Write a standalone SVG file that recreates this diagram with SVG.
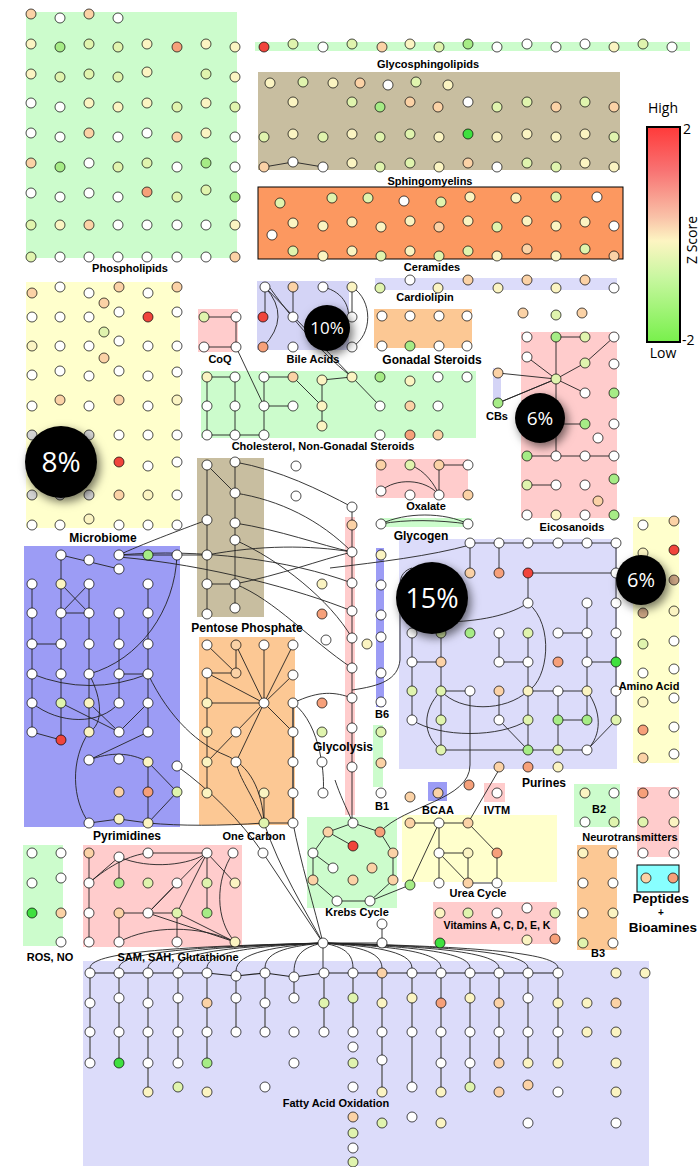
<svg xmlns="http://www.w3.org/2000/svg" width="700" height="1167" viewBox="0 0 700 1167">
<defs>
<style>
.t{font-family:"Liberation Sans",Arial,sans-serif;font-weight:bold;font-size:11px;text-anchor:middle;fill:#000}
.t12{font-size:12px}
.t14{font-size:13.5px}
.lgd{font-family:"Open Sans",sans-serif;font-size:14px;fill:#000}
.pc{font-family:"Open Sans",sans-serif;fill:#fff;text-anchor:middle}
.w,.y,.l,.g,.G,.p,.o,.r,.k,.b{r:5px;stroke:#000;stroke-width:.7}
.w{fill:#fff}.y{fill:#fbf4c2}.l{fill:#e0f4ae}.g{fill:#a6ec86}.G{fill:#3fe03f}.p{fill:#fbd2a6}.o{fill:#f6a07a}.r{fill:#f0453c}.k{fill:#d4d4d4}.b{fill:#c9a383}
.Pg{fill:#ccfccc}.Pt{fill:#c8bea0}.Po{fill:#fc9860;stroke:#000;stroke-width:1}.Pv{fill:#dcdcfa}.Pv2{fill:#d4d4f6}.Pp{fill:#ffcccc}.Pe{fill:#fcc894}.Py{fill:#ffffcc}.Pb{fill:#9c9cf5}.Pc{fill:#88ffff;stroke:#000;stroke-width:1}
#connectors path{fill:none;stroke:#222;stroke-width:.9}
</style>
<linearGradient id="zg" x1="0" y1="0" x2="0" y2="1">
<stop offset="0" stop-color="#ff3a3a"/><stop offset=".2" stop-color="#f87272"/><stop offset=".42" stop-color="#f9c2a8"/><stop offset=".53" stop-color="#fdf5c2"/><stop offset=".7" stop-color="#c8f7a0"/><stop offset="1" stop-color="#78f04c"/>
</linearGradient>
<filter id="sh" x="-60%" y="-60%" width="220%" height="220%"><feDropShadow dx="3" dy="4" stdDeviation="5" flood-color="#000" flood-opacity=".55"/></filter>
</defs>
<rect width="700" height="1167" fill="#fff"/>

<g id="panels">
<rect class="Pg" x="26" y="12" width="211" height="246"/>
<rect class="Pg" x="255" y="42" width="435" height="9"/>
<rect class="Pt" x="258" y="72" width="362" height="98"/>
<rect class="Po" x="258" y="187" width="365" height="72"/>
<rect class="Pv" x="375" y="278" width="242" height="12"/>
<rect class="Py" x="26" y="282" width="154" height="246"/>
<rect class="Pp" x="198" y="309" width="40" height="43"/>
<rect class="Pv2" x="257" y="281" width="92" height="69"/>
<rect class="Pe" x="374" y="309" width="98" height="39"/>
<rect class="Pg" x="201" y="371" width="275" height="67"/>
<rect class="Pv2" x="493" y="368" width="8" height="35"/>
<rect class="Pp" x="521" y="332" width="96" height="186"/>
<rect class="Pt" x="197" y="458" width="67" height="159"/>
<rect class="Pp" x="376" y="459" width="92" height="39"/>
<rect class="Pg" x="380" y="518" width="92" height="9"/>
<rect class="Py" x="633" y="517" width="46" height="246"/>
<rect class="Pb" x="24" y="546" width="156" height="281"/>
<rect class="Pe" x="199" y="637" width="96" height="188"/>
<rect class="Pp" x="345" y="517" width="10" height="298"/>
<rect class="Pb" x="376" y="548" width="8" height="159"/>
<rect class="Pv" x="399" y="539" width="218" height="230"/>
<rect class="Pg" x="373" y="725" width="10" height="62"/>
<rect class="Pb" x="428" y="782" width="19" height="19"/>
<rect class="Pp" x="484" y="783" width="21" height="19"/>
<rect class="Pg" x="574" y="784" width="46" height="43"/>
<rect class="Pp" x="637" y="787" width="42" height="70"/>
<rect class="Pg" x="307" y="817" width="90" height="91"/>
<rect class="Py" x="402" y="815" width="155" height="67"/>
<rect class="Pe" x="577" y="845" width="40" height="105"/>
<rect class="Pc" x="637" y="865" width="42" height="27"/>
<rect class="Pp" x="433" y="902" width="124" height="42"/>
<rect class="Pg" x="23" y="845" width="40" height="101"/>
<rect class="Pp" x="83" y="845" width="159" height="102"/>
<rect class="Pv" x="83" y="961" width="566" height="205"/>
</g>

<g id="connectors">
<path d="M264 167L293 162L323 167"/>
<path d="M204 317H236V347H204M236 347L264 406"/>
<path d="M265 287V317M265 287Q292 317 263 347M293 287V317M352 287V317M352 287C373 300 373 335 352 347M323 287C345 292 352 310 347 325M265 287L352 377M270 288C300 330 330 360 352 377"/>
<path d="M207 377V435M235 377V435M264 377V435M207 435H264M264 377H293M264 406H293M293 377L322 406M322 380V426M322 380L352 377M352 377L380 406M207 377H235"/>
<path d="M556 337V456M556 337H585M614 337L585 363M556 379L527 357M556 379L585 363M556 379L585 393M556 379L498 373M556 379L498 403M556 379L503 401M556 424H585M527 456H614M527 485H556"/>
<path d="M439 465H468M439 465V495M410 465C425 470 435 485 439 495M381 491C395 478 425 478 439 495"/>
<path d="M381 524C405 512 445 512 468 524M381 524C405 519 440 520 468 524"/>
<path d="M352 507V822"/>
<path d="M470 543H616M470 543V573M499 543V573M528 573V603M528 573H616M616 543V720M587 603V720M412 633V720M441 633V750M499 633V662M499 691V720M528 633V750M558 691V750M412 662H441M499 662H528M558 633H587M587 662H616M441 691H470M528 691H587M558 720H587M441 750H587M499 720L528 750M616 720L587 750"/>
<path d="M441 691C460 712 505 712 528 691M412 720C440 738 500 738 528 720M441 691C422 710 422 735 441 750M528 603C555 625 548 680 528 691M528 603C505 618 470 622 440 622M587 691C602 712 602 735 587 750"/>
<path d="M470 691V765C470 800 405 805 380 832"/>
<path d="M352 690C380 686 398 680 400 660V585C400 575 405 570 412 568M330 568C380 562 430 556 470 545"/>
<path d="M410 823H468M439 823V883M439 823L410 885M468 823L497 853V883M439 853L468 883M468 853V883M468 883H497M439 853H468M468 823L500 768"/>
<path d="M353 823L380 832L393 853L393 880L370 901L337 901L313 880L313 853L328 832ZM328 832L353 846M313 853L333 868M370 901L410 885M353 823C345 805 340 795 335 780"/>
<path d="M323 943H382M382 924V943M323 943L263 853M293 823C300 860 315 910 323 943M264 823C280 870 305 910 323 943"/>
<path d="M89 853V942M89 883L119 857M89 883C110 865 130 855 148 853M119 857V883M148 853H207M119 857C150 870 190 865 207 853M207 853V913M207 853L148 913M207 853L177 913M207 853L235 883M119 913H177M119 913V942M177 883L148 913M177 913V942M177 913L235 942M148 913L235 942M119 942C150 925 200 925 235 942M233 853C215 880 215 920 235 942"/>
<path d="M32 584V732M61 555V740M89 584V732M119 613V703M148 584V732M32 644H61M61 613H89M61 584L89 613M89 584L61 613M119 674H148M32 674Q90 697 148 674M32 732L61 740M61 703L119 732M89 703L119 732M32 703C60 725 100 725 119 703M148 703L119 732M148 732L89 760M89 760C110 752 130 752 148 762M148 762V823M148 762L177 792M177 792L148 823"/>
<path d="M89 674C103 700 103 725 89 732M89 732C70 760 72 800 89 823M89 823L119 819L148 823C180 826 220 826 264 823M89 674C140 660 175 610 177 555M61 555L119 569M119 555H207M207 520C180 530 140 545 119 555"/>
<path d="M207 465V614M235 462V608M207 465L235 493M207 584H235M235 584C280 575 320 560 352 552M235 584C275 600 310 640 352 668M207 555C260 545 310 545 352 552M119 555C200 548 290 560 352 583M119 557C210 565 300 590 352 611M235 493C280 500 320 520 352 552M235 462C280 470 320 490 352 507M235 523C280 530 320 545 352 552M235 540C280 560 330 600 352 638"/>
<path d="M264 703L207 673M264 703L236 645M264 703L293 645M264 703L293 675M264 703H207M264 703L293 732M264 703L236 762M264 703L207 762M264 645V703M207 673V793M236 645V673M207 673H236M207 645L236 673M264 793V823M264 823H293M264 823C250 790 240 780 236 762M293 703C320 690 335 692 352 698M293 703C322 725 325 780 323 793"/>
<path d="M293 703V823" style="stroke-width:1.6;stroke:#444"/>
<path d="M148 674C170 720 200 745 225 755C250 765 262 790 264 823M177 766C210 790 240 820 263 853"/>
<path d="M323 943C206 946 90 950 90 968M323 943C221 946 119 950 119 968M323 943C235 946 148 950 148 968M323 943C250 946 178 950 178 968M323 943C265 946 207 950 207 968M323 943C279 946 236 952 236 971M323 943C294 946 265 950 265 968M323 943C308 946 294 952 294 972M323 943V968M323 943C338 946 353 950 353 968M323 943C352 946 382 950 382 968M323 943C367 946 412 950 412 968M323 943C382 946 441 950 441 968M323 943C396 946 470 950 470 968M323 943C411 946 499 950 499 968M323 943C425 946 528 950 528 968M323 943C440 946 558 950 558 968"/>
<path d="M90 973H207L236 976L265 973L294 977L324 973H558" style="stroke-width:1.2"/>
<path d="M90 973V1063M119 973V1063M148 973V1092M178 973V1063M207 973V1063M236 976V1032M265 973V1032M294 977V1002M324 973V1032M353 973V1032M382 973V1092M412 973V1087M441 973V1092M470 973V1087M499 973V1063M528 973V1063M558 973V1063" style="stroke:#555;stroke-width:1.3"/>
</g>

<g id="nodes">
<g id="phospholipids">
<circle class="p" cx="31" cy="14"/><circle class="w" cx="60" cy="18"/><circle class="p" cx="89" cy="14"/><circle class="w" cx="118" cy="18"/>
<circle class="y" cx="31" cy="44"/><circle class="g" cx="60" cy="47"/><circle class="l" cx="89" cy="44"/><circle class="l" cx="118" cy="47"/><circle class="y" cx="147" cy="44"/><circle class="o" cx="177" cy="47"/><circle class="y" cx="206" cy="44"/><circle class="y" cx="235" cy="47"/>
<circle class="y" cx="31" cy="74"/><circle class="l" cx="60" cy="77"/><circle class="l" cx="89" cy="74"/><circle class="l" cx="118" cy="77"/><circle class="y" cx="147" cy="72"/><circle class="l" cx="206" cy="74"/><circle class="y" cx="235" cy="77"/>
<circle class="w" cx="31" cy="103"/><circle class="w" cx="60" cy="107"/><circle class="y" cx="89" cy="103"/><circle class="y" cx="118" cy="107"/><circle class="y" cx="147" cy="103"/><circle class="l" cx="177" cy="107"/><circle class="y" cx="206" cy="103"/><circle class="l" cx="235" cy="107"/>
<circle class="w" cx="31" cy="133"/><circle class="w" cx="60" cy="137"/><circle class="p" cx="89" cy="133"/><circle class="w" cx="118" cy="137"/><circle class="w" cx="147" cy="133"/><circle class="p" cx="177" cy="137"/><circle class="y" cx="206" cy="133"/><circle class="w" cx="235" cy="137"/>
<circle class="p" cx="31" cy="163"/><circle class="g" cx="60" cy="167"/><circle class="w" cx="89" cy="163"/><circle class="l" cx="118" cy="167"/><circle class="l" cx="147" cy="163"/><circle class="w" cx="177" cy="167"/><circle class="g" cx="206" cy="163"/><circle class="w" cx="235" cy="167"/>
<circle class="w" cx="31" cy="193"/><circle class="w" cx="60" cy="197"/><circle class="w" cx="89" cy="193"/><circle class="w" cx="118" cy="197"/><circle class="o" cx="147" cy="192"/><circle class="l" cx="177" cy="197"/><circle class="l" cx="206" cy="190"/><circle class="g" cx="235" cy="197"/>
<circle class="l" cx="31" cy="225"/><circle class="y" cx="60" cy="225"/><circle class="p" cx="89" cy="225"/><circle class="w" cx="118" cy="225"/><circle class="w" cx="147" cy="225"/><circle class="w" cx="177" cy="225"/><circle class="w" cx="206" cy="225"/><circle class="y" cx="235" cy="225"/>
<circle class="l" cx="31" cy="257"/><circle class="w" cx="60" cy="257"/><circle class="w" cx="89" cy="257"/><circle class="w" cx="118" cy="257"/><circle class="w" cx="147" cy="257"/><circle class="w" cx="177" cy="257"/><circle class="w" cx="206" cy="257"/><circle class="p" cx="235" cy="257"/>
</g>
<g id="glycosphingolipids">
<circle class="r" cx="264" cy="47"/><circle class="l" cx="293" cy="44"/><circle class="w" cx="323" cy="47"/><circle class="l" cx="352" cy="44"/><circle class="p" cx="382" cy="47"/><circle class="y" cx="410" cy="44"/><circle class="l" cx="439" cy="47"/><circle class="g" cx="468" cy="44"/><circle class="w" cx="497" cy="47"/><circle class="w" cx="527" cy="44"/><circle class="w" cx="556" cy="47"/><circle class="w" cx="585" cy="44"/><circle class="y" cx="614" cy="47"/><circle class="l" cx="643" cy="44"/><circle class="w" cx="672" cy="47"/>
</g>
<g id="sphingomyelins">
<circle class="y" cx="270" cy="83"/><circle class="l" cx="303" cy="82"/><circle class="y" cx="333" cy="83"/><circle class="p" cx="360" cy="83"/><circle class="w" cx="388" cy="85"/><circle class="l" cx="416" cy="82"/><circle class="y" cx="448" cy="85"/>
<circle class="y" cx="293" cy="102"/><circle class="l" cx="352" cy="102"/><circle class="g" cx="380" cy="107"/><circle class="p" cx="410" cy="102"/><circle class="p" cx="438" cy="107"/><circle class="w" cx="468" cy="102"/><circle class="l" cx="497" cy="107"/><circle class="l" cx="527" cy="102"/><circle class="p" cx="556" cy="107"/><circle class="l" cx="585" cy="102"/><circle class="p" cx="614" cy="107"/>
<circle class="l" cx="264" cy="137"/><circle class="y" cx="293" cy="134"/><circle class="l" cx="323" cy="137"/><circle class="y" cx="352" cy="134"/><circle class="l" cx="380" cy="137"/><circle class="l" cx="410" cy="134"/><circle class="y" cx="439" cy="137"/><circle class="G" cx="468" cy="134"/><circle class="y" cx="497" cy="137"/><circle class="y" cx="527" cy="134"/><circle class="y" cx="556" cy="137"/><circle class="y" cx="585" cy="134"/><circle class="l" cx="614" cy="137"/>
<circle class="p" cx="264" cy="167"/><circle class="w" cx="293" cy="162"/><circle class="w" cx="323" cy="167"/><circle class="y" cx="352" cy="163"/><circle class="l" cx="380" cy="167"/><circle class="l" cx="410" cy="163"/><circle class="y" cx="439" cy="167"/><circle class="p" cx="468" cy="163"/><circle class="w" cx="497" cy="167"/><circle class="l" cx="527" cy="163"/><circle class="l" cx="556" cy="167"/><circle class="y" cx="585" cy="163"/><circle class="y" cx="614" cy="167"/>
</g>
<g id="ceramides">
<circle class="l" cx="280" cy="203"/><circle class="l" cx="332" cy="198"/><circle class="l" cx="368" cy="198"/><circle class="w" cx="404" cy="201"/><circle class="l" cx="441" cy="202"/><circle class="y" cx="470" cy="197"/><circle class="y" cx="516" cy="198"/><circle class="l" cx="556" cy="197"/><circle class="w" cx="597" cy="197"/>
<circle class="w" cx="272" cy="235"/><circle class="y" cx="293" cy="223"/><circle class="y" cx="323" cy="226"/><circle class="y" cx="352" cy="222"/><circle class="y" cx="381" cy="227"/><circle class="y" cx="410" cy="221"/><circle class="p" cx="439" cy="227"/><circle class="y" cx="468" cy="221"/><circle class="l" cx="497" cy="227"/><circle class="y" cx="527" cy="221"/><circle class="y" cx="556" cy="226"/><circle class="y" cx="585" cy="222"/><circle class="w" cx="614" cy="226"/>
<circle class="l" cx="293" cy="251"/><circle class="y" cx="323" cy="256"/><circle class="y" cx="352" cy="251"/><circle class="l" cx="381" cy="256"/><circle class="y" cx="410" cy="251"/><circle class="l" cx="439" cy="256"/><circle class="l" cx="468" cy="251"/><circle class="y" cx="497" cy="256"/><circle class="p" cx="527" cy="249"/><circle class="y" cx="556" cy="256"/><circle class="l" cx="585" cy="249"/><circle class="p" cx="614" cy="256"/>
</g>
<g id="cardiolipin">
<circle class="l" cx="380" cy="288"/><circle class="w" cx="410" cy="280"/><circle class="y" cx="438" cy="288"/><circle class="p" cx="468" cy="280"/><circle class="y" cx="498" cy="288"/><circle class="p" cx="527" cy="280"/><circle class="y" cx="556" cy="288"/><circle class="p" cx="585" cy="280"/><circle class="w" cx="614" cy="288"/>
</g>
<g id="microbiome">
<circle class="p" cx="32" cy="293"/><circle class="w" cx="60" cy="287"/><circle class="w" cx="89" cy="293"/><circle class="p" cx="119" cy="287"/><circle class="w" cx="148" cy="293"/><circle class="p" cx="177" cy="287"/>
<circle class="p" cx="104" cy="303"/>
<circle class="w" cx="32" cy="317"/><circle class="w" cx="60" cy="317"/><circle class="w" cx="89" cy="317"/><circle class="w" cx="119" cy="312"/><circle class="r" cx="148" cy="317"/><circle class="w" cx="177" cy="312"/>
<circle class="l" cx="104" cy="332"/>
<circle class="y" cx="32" cy="346"/><circle class="w" cx="60" cy="346"/><circle class="w" cx="89" cy="346"/><circle class="w" cx="119" cy="341"/><circle class="w" cx="148" cy="346"/><circle class="w" cx="177" cy="346"/>
<circle class="p" cx="104" cy="358"/>
<circle class="w" cx="32" cy="375"/><circle class="w" cx="60" cy="371"/><circle class="w" cx="89" cy="376"/><circle class="w" cx="119" cy="371"/><circle class="w" cx="148" cy="376"/><circle class="w" cx="177" cy="372"/>
<circle class="w" cx="32" cy="406"/><circle class="p" cx="60" cy="400"/><circle class="w" cx="89" cy="406"/><circle class="p" cx="119" cy="400"/><circle class="w" cx="148" cy="406"/><circle class="y" cx="177" cy="400"/>
<circle class="k" cx="32" cy="435"/><circle class="k" cx="60" cy="435"/><circle class="k" cx="89" cy="435"/><circle class="w" cx="119" cy="435"/><circle class="w" cx="148" cy="435"/><circle class="w" cx="177" cy="435"/>
<circle class="k" cx="32" cy="462"/><circle class="k" cx="89" cy="462"/><circle class="r" cx="119" cy="462"/><circle class="w" cx="148" cy="466"/><circle class="w" cx="177" cy="462"/>
<circle class="k" cx="32" cy="495"/><circle class="k" cx="60" cy="495"/><circle class="k" cx="89" cy="495"/><circle class="p" cx="119" cy="495"/><circle class="y" cx="148" cy="495"/><circle class="w" cx="177" cy="495"/>
<circle class="y" cx="89" cy="519"/>
<circle class="w" cx="32" cy="525"/><circle class="w" cx="60" cy="525"/><circle class="w" cx="119" cy="525"/><circle class="w" cx="148" cy="525"/><circle class="w" cx="177" cy="525"/>
</g>
<g id="coq"><circle class="l" cx="204" cy="317"/><circle class="w" cx="236" cy="317"/><circle class="w" cx="204" cy="347"/><circle class="w" cx="236" cy="347"/></g>
<g id="bile-acids">
<circle class="w" cx="265" cy="287"/><circle class="p" cx="293" cy="287"/><circle class="w" cx="323" cy="287"/><circle class="y" cx="352" cy="287"/><circle class="r" cx="263" cy="317"/><circle class="w" cx="293" cy="317"/><circle class="w" cx="352" cy="317"/><circle class="o" cx="263" cy="347"/><circle class="w" cx="293" cy="347"/><circle class="w" cx="352" cy="347"/>
</g>
<g id="gonadal-steroids">
<circle class="w" cx="382" cy="316"/><circle class="w" cx="410" cy="316"/><circle class="w" cx="439" cy="316"/><circle class="w" cx="467" cy="316"/><circle class="w" cx="382" cy="346"/><circle class="g" cx="410" cy="346"/><circle class="w" cx="439" cy="346"/><circle class="w" cx="467" cy="346"/>
</g>
<g id="cholesterol">
<circle class="y" cx="207" cy="377"/><circle class="w" cx="235" cy="377"/><circle class="w" cx="264" cy="377"/><circle class="p" cx="293" cy="377"/><circle class="y" cx="322" cy="380"/><circle class="y" cx="352" cy="377"/><circle class="g" cx="380" cy="377"/><circle class="y" cx="410" cy="381"/><circle class="w" cx="438" cy="377"/><circle class="w" cx="467" cy="377"/>
<circle class="w" cx="207" cy="406"/><circle class="w" cx="235" cy="406"/><circle class="w" cx="264" cy="406"/><circle class="w" cx="293" cy="406"/><circle class="y" cx="322" cy="406"/><circle class="w" cx="380" cy="406"/><circle class="p" cx="410" cy="406"/><circle class="w" cx="438" cy="406"/>
<circle class="y" cx="322" cy="426"/>
<circle class="w" cx="207" cy="435"/><circle class="w" cx="235" cy="435"/><circle class="w" cx="264" cy="435"/><circle class="w" cx="380" cy="435"/><circle class="o" cx="410" cy="435"/><circle class="p" cx="438" cy="435"/>
</g>
<g id="cbs"><circle class="p" cx="498" cy="373"/><circle class="g" cx="498" cy="403"/><circle class="p" cx="523" cy="313"/><circle class="l" cx="556" cy="315"/><circle class="p" cx="582" cy="313"/></g>
<g id="eicosanoids">
<circle class="w" cx="527" cy="337"/><circle class="g" cx="556" cy="337"/><circle class="l" cx="585" cy="337"/><circle class="w" cx="614" cy="337"/>
<circle class="w" cx="527" cy="357"/><circle class="l" cx="585" cy="363"/><circle class="w" cx="614" cy="364"/><circle class="l" cx="556" cy="379"/>
<circle class="w" cx="585" cy="393"/><circle class="g" cx="614" cy="393"/><circle class="w" cx="556" cy="424"/><circle class="g" cx="585" cy="424"/><circle class="w" cx="614" cy="424"/><circle class="w" cx="598" cy="438"/>
<circle class="g" cx="527" cy="456"/><circle class="w" cx="556" cy="456"/><circle class="w" cx="585" cy="456"/><circle class="w" cx="614" cy="456"/>
<circle class="l" cx="527" cy="485"/><circle class="w" cx="556" cy="485"/><circle class="w" cx="585" cy="485"/><circle class="g" cx="614" cy="479"/><circle class="p" cx="598" cy="501"/>
<circle class="w" cx="527" cy="515"/><circle class="y" cx="556" cy="515"/><circle class="w" cx="585" cy="515"/><circle class="g" cx="614" cy="515"/>
</g>
<g id="pentose-phosphate">
<circle class="w" cx="207" cy="465"/><circle class="w" cx="235" cy="462"/><circle class="w" cx="235" cy="493"/><circle class="w" cx="207" cy="520"/><circle class="w" cx="235" cy="523"/><circle class="w" cx="235" cy="540"/><circle class="w" cx="207" cy="555"/><circle class="w" cx="207" cy="584"/><circle class="w" cx="235" cy="584"/><circle class="w" cx="235" cy="608"/><circle class="w" cx="207" cy="614"/>
<circle class="w" cx="296" cy="466"/><circle class="w" cx="296" cy="496"/>
</g>
<g id="oxalate">
<circle class="p" cx="381" cy="465"/><circle class="l" cx="410" cy="465"/><circle class="p" cx="439" cy="465"/><circle class="w" cx="468" cy="465"/><circle class="w" cx="381" cy="491"/><circle class="w" cx="410" cy="495"/><circle class="w" cx="439" cy="495"/><circle class="p" cx="468" cy="495"/>
</g>
<g id="glycogen"><circle class="w" cx="381" cy="524"/><circle class="w" cx="468" cy="524"/></g>
<g id="glycolysis">
<circle class="w" cx="352" cy="507"/><circle class="p" cx="352" cy="525"/><circle class="w" cx="352" cy="552"/><circle class="w" cx="352" cy="583"/><circle class="w" cx="352" cy="611"/><circle class="w" cx="352" cy="638"/><circle class="y" cx="367" cy="644"/><circle class="w" cx="352" cy="668"/><circle class="w" cx="352" cy="698"/><circle class="w" cx="352" cy="728"/><circle class="w" cx="352" cy="767"/>
<circle class="y" cx="322" cy="584"/><circle class="o" cx="322" cy="614"/><circle class="w" cx="326" cy="640"/><circle class="o" cx="322" cy="703"/><circle class="l" cx="322" cy="732"/><circle class="w" cx="322" cy="762"/><circle class="w" cx="323" cy="793"/>
</g>
<g id="b6"><circle class="y" cx="381" cy="555"/><circle class="w" cx="381" cy="585"/><circle class="w" cx="381" cy="615"/><circle class="w" cx="381" cy="637"/><circle class="w" cx="381" cy="673"/><circle class="w" cx="381" cy="702"/></g>
<g id="b1"><circle class="l" cx="381" cy="732"/><circle class="p" cx="381" cy="763"/><circle class="w" cx="381" cy="793"/><circle class="p" cx="410" cy="797"/></g>
<g id="bcaa"><circle class="p" cx="438" cy="793"/><circle class="o" cx="469" cy="785"/></g>
<g id="ivtm"><circle class="w" cx="497" cy="793"/></g>
<g id="purines">
<circle class="w" cx="470" cy="543"/><circle class="w" cx="499" cy="543"/><circle class="w" cx="528" cy="543"/><circle class="w" cx="558" cy="543"/><circle class="w" cx="587" cy="543"/><circle class="w" cx="616" cy="543"/>
<circle class="p" cx="470" cy="573"/><circle class="o" cx="499" cy="573"/><circle class="r" cx="528" cy="573"/><circle class="w" cx="616" cy="573"/>
<circle class="w" cx="528" cy="603"/><circle class="w" cx="587" cy="603"/><circle class="w" cx="616" cy="603"/>
<circle class="w" cx="412" cy="633"/><circle class="l" cx="441" cy="633"/><circle class="g" cx="470" cy="633"/><circle class="w" cx="499" cy="633"/><circle class="l" cx="528" cy="633"/><circle class="w" cx="558" cy="633"/><circle class="w" cx="587" cy="633"/><circle class="w" cx="616" cy="633"/>
<circle class="w" cx="412" cy="662"/><circle class="p" cx="441" cy="662"/><circle class="w" cx="499" cy="662"/><circle class="w" cx="528" cy="662"/><circle class="o" cx="558" cy="662"/><circle class="w" cx="587" cy="662"/><circle class="G" cx="616" cy="662"/>
<circle class="l" cx="412" cy="691"/><circle class="l" cx="441" cy="691"/><circle class="w" cx="470" cy="691"/><circle class="p" cx="499" cy="691"/><circle class="y" cx="528" cy="691"/><circle class="w" cx="558" cy="691"/><circle class="y" cx="587" cy="691"/><circle class="w" cx="616" cy="691"/>
<circle class="w" cx="412" cy="720"/><circle class="l" cx="441" cy="720"/><circle class="w" cx="499" cy="720"/><circle class="l" cx="528" cy="720"/><circle class="g" cx="558" cy="720"/><circle class="g" cx="587" cy="720"/><circle class="l" cx="616" cy="720"/>
<circle class="l" cx="441" cy="750"/><circle class="g" cx="528" cy="750"/><circle class="l" cx="558" cy="750"/><circle class="w" cx="587" cy="750"/>
<circle class="p" cx="499" cy="767"/><circle class="o" cx="528" cy="767"/><circle class="y" cx="558" cy="767"/>
</g>
<g id="amino-acid">
<circle class="w" cx="643" cy="525"/><circle class="p" cx="674" cy="521"/><circle class="y" cx="643" cy="553"/><circle class="r" cx="674" cy="550"/><circle class="b" cx="674" cy="580"/><circle class="b" cx="643" cy="613"/><circle class="y" cx="674" cy="611"/><circle class="l" cx="643" cy="644"/><circle class="w" cx="674" cy="641"/><circle class="w" cx="643" cy="673"/><circle class="w" cx="674" cy="669"/><circle class="y" cx="643" cy="702"/><circle class="w" cx="674" cy="698"/><circle class="o" cx="643" cy="730"/><circle class="w" cx="674" cy="727"/><circle class="p" cx="643" cy="758"/><circle class="w" cx="674" cy="754"/>
</g>
<g id="pyrimidines">
<circle class="w" cx="61" cy="555"/><circle class="w" cx="89" cy="560"/><circle class="w" cx="119" cy="555"/><circle class="w" cx="119" cy="569"/><circle class="g" cx="148" cy="555"/><circle class="w" cx="177" cy="555"/>
<circle class="w" cx="32" cy="584"/><circle class="y" cx="61" cy="584"/><circle class="w" cx="89" cy="584"/><circle class="w" cx="148" cy="584"/>
<circle class="w" cx="32" cy="613"/><circle class="w" cx="61" cy="613"/><circle class="w" cx="89" cy="613"/><circle class="w" cx="119" cy="613"/><circle class="w" cx="148" cy="613"/>
<circle class="w" cx="32" cy="644"/><circle class="w" cx="61" cy="644"/><circle class="w" cx="89" cy="644"/><circle class="w" cx="119" cy="644"/><circle class="w" cx="148" cy="644"/>
<circle class="w" cx="32" cy="674"/><circle class="w" cx="61" cy="674"/><circle class="w" cx="89" cy="674"/><circle class="w" cx="119" cy="674"/><circle class="w" cx="148" cy="674"/>
<circle class="w" cx="32" cy="703"/><circle class="l" cx="61" cy="703"/><circle class="y" cx="89" cy="703"/><circle class="w" cx="119" cy="703"/><circle class="w" cx="148" cy="703"/>
<circle class="w" cx="32" cy="732"/><circle class="r" cx="61" cy="740"/><circle class="y" cx="89" cy="732"/><circle class="w" cx="119" cy="732"/><circle class="w" cx="148" cy="732"/>
<circle class="w" cx="89" cy="760"/><circle class="w" cx="119" cy="759"/><circle class="y" cx="148" cy="762"/><circle class="w" cx="177" cy="766"/>
<circle class="p" cx="119" cy="792"/><circle class="o" cx="148" cy="792"/><circle class="l" cx="177" cy="792"/>
<circle class="w" cx="89" cy="823"/><circle class="y" cx="119" cy="819"/><circle class="y" cx="148" cy="823"/>
</g>
<g id="one-carbon">
<circle class="w" cx="207" cy="645"/><circle class="p" cx="236" cy="645"/><circle class="w" cx="264" cy="645"/><circle class="w" cx="293" cy="645"/>
<circle class="w" cx="207" cy="673"/><circle class="p" cx="236" cy="673"/><circle class="w" cx="293" cy="675"/>
<circle class="y" cx="207" cy="703"/><circle class="w" cx="264" cy="703"/><circle class="w" cx="293" cy="703"/>
<circle class="y" cx="207" cy="732"/><circle class="w" cx="236" cy="732"/><circle class="w" cx="293" cy="732"/>
<circle class="y" cx="207" cy="762"/><circle class="w" cx="236" cy="762"/><circle class="w" cx="293" cy="762"/>
<circle class="y" cx="207" cy="793"/><circle class="y" cx="264" cy="793"/><circle class="w" cx="293" cy="793"/>
<circle class="l" cx="264" cy="823"/><circle class="w" cx="293" cy="823"/>
</g>
<g id="b2"><circle class="y" cx="585" cy="793"/><circle class="w" cx="614" cy="793"/><circle class="w" cx="585" cy="822"/><circle class="l" cx="614" cy="822"/></g>
<g id="neurotransmitters"><circle class="o" cx="643" cy="793"/><circle class="w" cx="674" cy="793"/><circle class="l" cx="643" cy="822"/><circle class="y" cx="674" cy="822"/><circle class="w" cx="643" cy="853"/><circle class="w" cx="674" cy="853"/></g>
<g id="b3"><circle class="y" cx="583" cy="853"/><circle class="w" cx="613" cy="853"/><circle class="w" cx="583" cy="883"/><circle class="w" cx="613" cy="883"/><circle class="w" cx="583" cy="913"/><circle class="y" cx="613" cy="913"/><circle class="l" cx="583" cy="943"/><circle class="w" cx="613" cy="943"/></g>
<g id="peptides"><circle class="p" cx="646" cy="878"/><circle class="o" cx="673" cy="878"/></g>
<g id="urea-cycle">
<circle class="p" cx="410" cy="823"/><circle class="w" cx="439" cy="823"/><circle class="p" cx="468" cy="823"/><circle class="w" cx="439" cy="853"/><circle class="y" cx="468" cy="853"/><circle class="o" cx="497" cy="853"/><circle class="w" cx="439" cy="883"/><circle class="p" cx="468" cy="883"/><circle class="w" cx="497" cy="883"/><circle class="g" cx="410" cy="885"/>
</g>
<g id="krebs-cycle">
<circle class="w" cx="353" cy="823"/><circle class="p" cx="328" cy="832"/><circle class="o" cx="380" cy="832"/><circle class="r" cx="353" cy="846"/><circle class="w" cx="313" cy="853"/><circle class="p" cx="393" cy="853"/><circle class="w" cx="333" cy="868"/><circle class="p" cx="372" cy="868"/><circle class="p" cx="313" cy="880"/><circle class="p" cx="353" cy="880"/><circle class="p" cx="393" cy="880"/><circle class="w" cx="337" cy="901"/><circle class="w" cx="370" cy="901"/>
<circle class="w" cx="382" cy="924"/><circle class="w" cx="382" cy="943"/><circle class="w" cx="323" cy="943"/>
</g>
<g id="vitamins">
<circle class="y" cx="440" cy="913"/><circle class="l" cx="468" cy="913"/><circle class="w" cx="497" cy="913"/><circle class="w" cx="527" cy="908"/><circle class="l" cx="555" cy="913"/><circle class="G" cx="440" cy="943"/><circle class="y" cx="527" cy="940"/><circle class="o" cx="555" cy="939"/>
</g>
<g id="ros-no"><circle class="w" cx="32" cy="853"/><circle class="w" cx="61" cy="853"/><circle class="w" cx="32" cy="883"/><circle class="w" cx="61" cy="878"/><circle class="G" cx="32" cy="913"/><circle class="p" cx="61" cy="913"/><circle class="w" cx="61" cy="942"/></g>
<g id="sam-sah-glutathione">
<circle class="p" cx="89" cy="853"/><circle class="w" cx="119" cy="857"/><circle class="w" cx="148" cy="853"/><circle class="w" cx="207" cy="853"/><circle class="w" cx="233" cy="853"/><circle class="w" cx="263" cy="853"/>
<circle class="w" cx="89" cy="883"/><circle class="g" cx="119" cy="883"/><circle class="l" cx="148" cy="883"/><circle class="w" cx="177" cy="883"/><circle class="l" cx="207" cy="883"/><circle class="y" cx="235" cy="883"/>
<circle class="w" cx="89" cy="913"/><circle class="p" cx="119" cy="913"/><circle class="w" cx="148" cy="913"/><circle class="l" cx="177" cy="913"/><circle class="g" cx="207" cy="913"/>
<circle class="w" cx="89" cy="942"/><circle class="w" cx="119" cy="942"/><circle class="w" cx="177" cy="942"/><circle class="y" cx="235" cy="942"/>
</g>
<g id="fatty-acid-oxidation">
<circle class="w" cx="90" cy="973"/><circle class="w" cx="119" cy="973"/><circle class="w" cx="148" cy="973"/><circle class="w" cx="178" cy="973"/><circle class="w" cx="207" cy="973"/><circle class="w" cx="236" cy="976"/><circle class="w" cx="265" cy="973"/><circle class="w" cx="294" cy="977"/><circle class="w" cx="324" cy="973"/><circle class="w" cx="353" cy="973"/><circle class="p" cx="382" cy="973"/><circle class="w" cx="412" cy="973"/><circle class="w" cx="441" cy="973"/><circle class="w" cx="470" cy="973"/><circle class="w" cx="499" cy="973"/><circle class="w" cx="528" cy="973"/><circle class="w" cx="558" cy="973"/><circle class="y" cx="616" cy="973"/><circle class="y" cx="645" cy="973"/>
<circle class="w" cx="90" cy="1003"/><circle class="w" cx="119" cy="998"/><circle class="w" cx="148" cy="1003"/><circle class="w" cx="178" cy="998"/><circle class="p" cx="207" cy="1003"/><circle class="w" cx="236" cy="998"/><circle class="w" cx="265" cy="1003"/><circle class="w" cx="294" cy="998"/><circle class="l" cx="324" cy="1003"/><circle class="l" cx="353" cy="998"/><circle class="y" cx="382" cy="1003"/><circle class="y" cx="412" cy="998"/><circle class="o" cx="441" cy="1003"/><circle class="y" cx="470" cy="998"/><circle class="p" cx="499" cy="1003"/><circle class="w" cx="528" cy="998"/><circle class="y" cx="558" cy="1003"/><circle class="y" cx="587" cy="1003"/><circle class="p" cx="616" cy="1003"/>
<circle class="w" cx="90" cy="1032"/><circle class="w" cx="119" cy="1032"/><circle class="w" cx="148" cy="1032"/><circle class="w" cx="178" cy="1032"/><circle class="w" cx="207" cy="1032"/><circle class="w" cx="236" cy="1032"/><circle class="w" cx="265" cy="1032"/><circle class="w" cx="294" cy="1032"/><circle class="w" cx="324" cy="1032"/><circle class="w" cx="353" cy="1032"/><circle class="w" cx="382" cy="1032"/><circle class="w" cx="412" cy="1032"/><circle class="w" cx="441" cy="1032"/><circle class="w" cx="470" cy="1032"/><circle class="w" cx="499" cy="1032"/><circle class="w" cx="528" cy="1032"/><circle class="w" cx="558" cy="1032"/><circle class="y" cx="587" cy="1032"/><circle class="y" cx="616" cy="1032"/>
<circle class="w" cx="353" cy="1047"/>
<circle class="w" cx="90" cy="1063"/><circle class="G" cx="119" cy="1063"/><circle class="w" cx="148" cy="1063"/><circle class="w" cx="178" cy="1063"/><circle class="g" cx="207" cy="1063"/><circle class="w" cx="294" cy="1063"/><circle class="l" cx="353" cy="1063"/><circle class="w" cx="382" cy="1060"/><circle class="w" cx="441" cy="1063"/><circle class="w" cx="470" cy="1063"/><circle class="p" cx="499" cy="1063"/><circle class="y" cx="528" cy="1063"/><circle class="y" cx="558" cy="1063"/><circle class="y" cx="616" cy="1063"/>
<circle class="y" cx="148" cy="1092"/><circle class="l" cx="178" cy="1087"/><circle class="y" cx="207" cy="1092"/><circle class="w" cx="265" cy="1087"/><circle class="w" cx="353" cy="1087"/><circle class="y" cx="382" cy="1092"/><circle class="w" cx="412" cy="1087"/><circle class="y" cx="441" cy="1092"/><circle class="l" cx="470" cy="1087"/><circle class="p" cx="499" cy="1092"/><circle class="p" cx="528" cy="1085"/><circle class="w" cx="558" cy="1092"/><circle class="y" cx="616" cy="1092"/>
<circle class="p" cx="353" cy="1117"/><circle class="l" cx="382" cy="1123"/><circle class="w" cx="412" cy="1117"/><circle class="y" cx="441" cy="1123"/><circle class="w" cx="528" cy="1123"/><circle class="w" cx="616" cy="1123"/>
<circle class="l" cx="353" cy="1133"/><circle class="w" cx="353" cy="1148"/><circle class="l" cx="353" cy="1162"/>
</g>
</g>

<g id="labels">
<text class="t" x="130" y="272">Phospholipids</text>
<text class="t" x="428" y="68">Glycosphingolipids</text>
<text class="t" x="430" y="185">Sphingomyelins</text>
<text class="t" x="432" y="271">Ceramides</text>
<text class="t" x="425" y="301">Cardiolipin</text>
<text class="t" x="220" y="363">CoQ</text>
<text class="t" x="313" y="363">Bile Acids</text>
<text class="t t12" x="432" y="364">Gonadal Steroids</text>
<text class="t" x="323" y="450">Cholesterol, Non-Gonadal Steroids</text>
<text class="t" x="497" y="420">CBs</text>
<text class="t" x="572" y="531">Eicosanoids</text>
<text class="t t12" x="103" y="542">Microbiome</text>
<text class="t t12" x="127" y="840">Pyrimidines</text>
<text class="t t12" x="247" y="632">Pentose Phosphate</text>
<text class="t" x="254" y="840">One Carbon</text>
<text class="t" x="426" y="510">Oxalate</text>
<text class="t t12" x="421" y="540">Glycogen</text>
<text class="t t12" x="343" y="751">Glycolysis</text>
<text class="t" x="382" y="718">B6</text>
<text class="t t12" x="544" y="787">Purines</text>
<text class="t" x="649" y="690">Amino Acid</text>
<text class="t" x="382" y="810">B1</text>
<text class="t" x="438" y="814">BCAA</text>
<text class="t" x="497" y="814">IVTM</text>
<text class="t" x="599" y="813">B2</text>
<text class="t" x="630" y="841">Neurotransmitters</text>
<text class="t" x="478" y="897">Urea Cycle</text>
<text class="t" x="357" y="916">Krebs Cycle</text>
<text class="t" x="497" y="929" style="font-size:10.5px">Vitamins A, C, D, E, K</text>
<text class="t" x="598" y="957">B3</text>
<text class="t t14" x="661" y="903">Peptides</text>
<text class="t" x="661" y="916" style="font-size:10px">+</text>
<text class="t t14" x="663" y="932">Bioamines</text>
<text class="t" x="50" y="961">ROS, NO</text>
<text class="t" x="178" y="961">SAM, SAH, Glutathione</text>
<text class="t" x="336" y="1107">Fatty Acid Oxidation</text>
</g>

<g id="percentages">
<circle cx="61" cy="462" r="36" fill="#000" filter="url(#sh)"/>
<text class="pc" x="61" y="472" font-size="28">8%</text>
<circle cx="327" cy="328" r="23" fill="#000" filter="url(#sh)"/>
<text class="pc" x="327" y="334" font-size="17">10%</text>
<circle cx="540" cy="418" r="25" fill="#000" filter="url(#sh)"/>
<text class="pc" x="540" y="425" font-size="19">6%</text>
<circle cx="432" cy="598" r="36" fill="#000" filter="url(#sh)"/>
<text class="pc" x="432" y="608" font-size="27">15%</text>
<circle cx="641" cy="580" r="25" fill="#000" filter="url(#sh)"/>
<text class="pc" x="641" y="587" font-size="20">6%</text>
</g>

<g id="legend">
<rect x="647" y="127" width="33" height="215" fill="url(#zg)" stroke="#000" stroke-width="2"/>
<text class="lgd" x="663" y="113" text-anchor="middle">High</text>
<text class="lgd" x="683" y="134">2</text>
<text class="lgd" x="682" y="345">-2</text>
<text class="lgd" x="663" y="358" text-anchor="middle">Low</text>
<text class="lgd" transform="translate(697 240) rotate(-90)" text-anchor="middle">Z Score</text>
</g>
</svg>
